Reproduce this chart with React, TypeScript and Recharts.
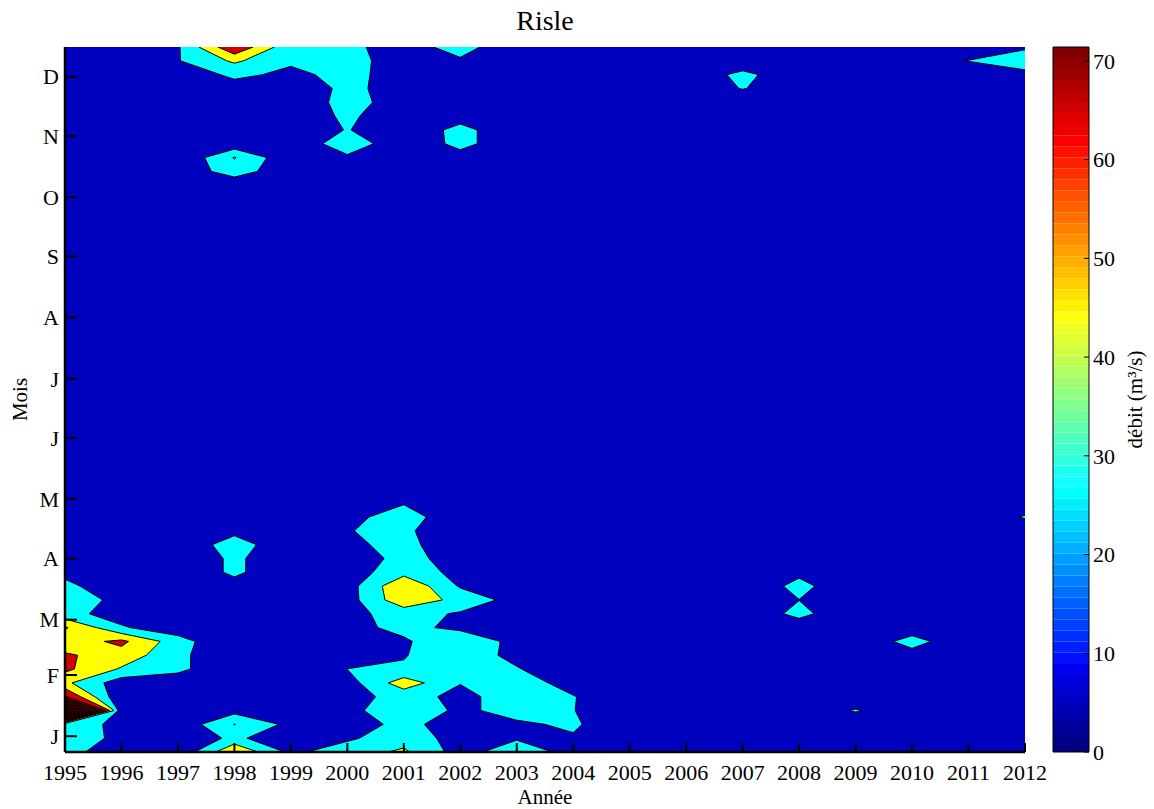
import { ScatterChart, Scatter, XAxis, YAxis, Label, ComposedChart, ReferenceArea } from "recharts";

const FONT = "'Liberation Serif', 'Times New Roman', serif";

// grid: one column per year, one row per week (day of year of the weekly value)
const YEARS = [1995, 1996, 1997, 1998, 1999, 2000, 2001, 2002, 2003, 2004, 2005, 2006, 2007, 2008, 2009, 2010, 2011, 2012];
const WEEK_DAYS = [
  7, 14, 21, 28, 35, 42, 49, 56, 63, 70, 77, 84, 91, 98, 105, 112, 119, 126, 133, 140, 147, 154, 161, 168, 175, 182,
  189, 196, 203, 210, 217, 224, 231, 238, 245, 252, 259, 266, 273, 280, 287, 294, 301, 308, 315, 322, 329, 336, 343, 350, 357, 364,
];
const MONTH_DAYS = [15, 46, 74, 105, 135, 166, 196, 227, 258, 288, 319, 349];
const MONTH_LETTERS = ["J", "F", "M", "A", "M", "J", "J", "A", "S", "O", "N", "D"];

// weekly discharge (m3/s), week 1 -> week 52
const q1995 = [30, 33, 30, 260, 82, 48, 66, 64, 53, 64, 32, 34, 30, 22, 17, 15, 14, 13, 12, 12, 11, 11, 10, 10, 9, 9, 9, 8, 8, 8, 7, 8, 7, 7, 8, 8, 8, 8, 9, 9, 10, 10, 11, 11, 12, 12, 13, 13, 13, 14, 14, 15];
const q1996 = [19, 23, 24, 11, 10, 16, 42, 55, 66, 28, 18, 22, 15, 12, 12, 11, 11, 12, 11, 10, 10, 10, 9, 9, 9, 9, 8, 8, 9, 8, 8, 7, 7, 8, 8, 8, 7, 8, 8, 9, 9, 10, 10, 11, 11, 12, 12, 12, 12, 13, 13, 14];
const q1997 = [12, 5, 13, 12, 12, 16, 30, 30, 34, 15, 12, 12, 12, 12, 12, 12, 11, 11, 11, 10, 10, 10, 9, 9, 9, 9, 8, 8, 8, 8, 7, 7, 8, 8, 8, 8, 8, 8, 9, 9, 9, 10, 10, 9, 11, 11, 12, 12, 12, 17, 25, 24];
const q1998 = [60, 32, 44.5, 20, 12, 12, 12, 12, 8, 12, 12, 12, 19, 29.5, 29.5, 35, 21, 12, 11, 11, 10, 10, 10, 9, 9, 9, 8, 9, 8, 8, 8, 7, 8, 8, 8, 8, 9, 8, 9, 9, 9, 10, 37, 45, 14, 12, 12, 12, 20, 29, 47, 78];
const q1999 = [22, 5, 21, 12, 12, 13, 12, 13, 12, 13, 13, 12, 12, 12, 12, 12, 11, 11, 10, 10, 10, 9, 9, 9, 9, 8, 8, 8, 8, 7, 7, 7, 7, 7, 8, 8, 8, 8, 8, 9, 9, 10, 10, 12, 8, 12, 12, 10, 15, 23, 28, 30];
const q2000 = [36, 23, 12, 20, 20, 18, 26.2, 15, 14, 19, 21, 18, 18, 16, 11, 22, 25.5, 21, 12, 11, 10, 10, 9, 9, 9, 8, 8, 8, 8, 8, 7, 7, 7, 8, 8, 8, 8, 9, 9, 10, 10, 11, 11, 22, 40, 27, 30, 34, 30, 30, 32, 31];
const q2001 = [47, 37, 34, 40, 32, 54, 28, 25, 23, 32, 33, 57, 60, 38, 34, 32, 29.5, 34, 25, 12, 11, 10, 10, 10, 9, 9, 9, 8, 8, 8, 8, 7, 7, 8, 8, 8, 8, 8, 9, 9, 10, 10, 11, 11, 10, 12, 12, 16, 19, 20, 18, 16];
const q2002 = [18, 18, 12, 22, 22, 26.5, 33, 38, 43, 21, 24, 38, 24, 20, 16, 12, 12, 14, 11, 11, 10, 10, 10, 9, 9, 9, 9, 8, 8, 8, 8, 7, 8, 8, 7, 8, 8, 8, 8, 9, 9, 10, 10, 18, 32, 32, 18, 12, 12, 12, 23, 35];
const q2003 = [38, 24, 23, 33, 33, 36, 27.5, 20, 19, 14, 15, 19, 12, 12, 12, 12, 11, 11, 10, 10, 10, 9, 9, 9, 9, 8, 8, 8, 8, 7, 7, 7, 7, 7, 8, 8, 8, 8, 8, 9, 9, 10, 10, 11, 12, 12, 12, 12, 13, 13, 12, 9];
const q2004 = [19, 24, 29, 26.5, 27, 18, 10, 12, 12, 12, 13, 12, 12, 12, 11, 11, 11, 10, 10, 10, 9, 9, 9, 9, 8, 8, 8, 8, 7, 7, 7, 7, 7, 7, 7, 8, 8, 8, 8, 9, 9, 10, 10, 11, 11, 12, 12, 12, 13, 13, 13, 14];
const q2005 = [12, 11, 10, 12, 10, 12, 12, 13, 12, 13, 12, 12, 12, 11, 11, 11, 10, 10, 10, 9, 9, 9, 9, 8, 8, 8, 8, 7, 7, 7, 7, 7, 7, 7, 7, 7, 8, 8, 8, 9, 9, 9, 10, 10, 11, 11, 12, 12, 12, 13, 13, 13];
const q2006 = [13, 14, 13, 13, 14, 14, 13, 14, 13, 13, 13, 12, 12, 12, 11, 11, 11, 10, 10, 10, 9, 9, 9, 9, 8, 8, 8, 8, 8, 7, 7, 7, 7, 7, 7, 8, 8, 8, 8, 9, 9, 10, 10, 11, 11, 11, 12, 12, 12, 13, 13, 14];
const q2007 = [14, 14, 15, 14, 13, 14, 14, 13, 13, 13, 13, 12, 12, 12, 12, 11, 11, 11, 10, 10, 10, 9, 9, 9, 9, 8, 8, 8, 8, 8, 7, 7, 7, 7, 8, 8, 8, 8, 8, 9, 9, 10, 10, 11, 11, 11, 12, 10, 27, 31, 13, 14];
const q2008 = [14, 15, 14, 14, 13, 14, 13, 13, 14, 16, 31, 25.8, 31.4, 22, 13, 12, 12, 11, 11, 10, 10, 10, 9, 9, 9, 9, 8, 8, 8, 8, 8, 7, 7, 7, 8, 8, 8, 8, 8, 9, 9, 10, 10, 11, 11, 12, 12, 12, 13, 13, 13, 14];
const q2009 = [13, 14, 14, 27.5, 13, 14, 13, 13, 12, 13, 12, 12, 12, 12, 11, 11, 11, 10, 10, 10, 9, 9, 9, 9, 8, 8, 8, 8, 7, 7, 7, 7, 7, 7, 7, 8, 8, 8, 8, 9, 9, 9, 10, 10, 11, 11, 12, 12, 12, 13, 13, 13];
const q2010 = [14, 14, 13, 13, 14, 13, 13, 19, 33, 16, 13, 12, 12, 12, 12, 11, 11, 10, 10, 10, 9, 9, 9, 9, 8, 8, 8, 8, 8, 7, 7, 7, 7, 7, 8, 8, 8, 8, 8, 9, 9, 10, 10, 10, 11, 11, 12, 12, 12, 13, 21, 13];
const q2011 = [14, 15, 14, 13, 13, 14, 13, 13, 12, 13, 13, 12, 12, 12, 12, 11, 11, 10, 10, 10, 9, 9, 9, 9, 8, 8, 8, 8, 8, 8, 7, 7, 7, 7, 7, 8, 8, 8, 8, 9, 9, 10, 10, 11, 11, 11, 12, 12, 12, 15, 26.5, 15];
const q2012 = [27, 15, 14, 14, 13, 14, 13, 13, 12, 12, 12, 12, 11, 11, 11, 11, 11, 28, 11, 10, 10, 9, 9, 9, 9, 8, 8, 8, 8, 8, 7, 7, 7, 7, 8, 8, 8, 8, 8, 9, 9, 10, 10, 11, 11, 11, 12, 12, 12, 18.5, 40, 22.5];

const FLOWS = [q1995, q1996, q1997, q1998, q1999, q2000, q2001, q2002, q2003, q2004, q2005, q2006, q2007, q2008, q2009, q2010, q2011, q2012];

// contour levels and the colour filled above each one
const LEVELS = [26, 44, 62, 80, 98, 116, 134, 152, 170, 188, 206, 224, 242];
const BG_COLOR = "#0000BF";
const LEVEL_COLORS = ["#00FFFF", "#FFFF00", "#CF0000", "#800000", "#800000", "#800000", "#800000", "#800000", "#800000", "#800000", "#800000", "#800000", "#800000"];

const CB_MAX = 71.4;
const CB_TICKS = [0, 10, 20, 30, 40, 50, 60, 70];
const CB_STEPS = 64;

type Pt = { x: number; y: number };

function cellCorners(i: number, j: number) {
  const xs = [YEARS[i], YEARS[i + 1], YEARS[i + 1], YEARS[i]];
  const ys = [WEEK_DAYS[j], WEEK_DAYS[j], WEEK_DAYS[j + 1], WEEK_DAYS[j + 1]];
  const vs = [FLOWS[i][j], FLOWS[i + 1][j], FLOWS[i + 1][j + 1], FLOWS[i][j + 1]];
  return { xs, ys, vs };
}

function crossing(xs: number[], ys: number[], vs: number[], a: number, b: number, level: number): Pt {
  const t = (level - vs[a]) / (vs[b] - vs[a]);
  return { x: xs[a] + t * (xs[b] - xs[a]), y: ys[a] + t * (ys[b] - ys[a]) };
}

// part of one grid cell lying at or above the level (marching squares)
function cellRegion(i: number, j: number, level: number): Pt[][] {
  const { xs, ys, vs } = cellCorners(i, j);
  const inside = vs.map((v) => v >= level);
  const count = inside.filter(Boolean).length;
  if (count === 0) return [];
  const centre = (vs[0] + vs[1] + vs[2] + vs[3]) / 4;
  if (count === 2 && inside[0] === inside[2] && centre < level) {
    return [0, 1, 2, 3]
      .filter((k) => inside[k])
      .map((k) => [
        crossing(xs, ys, vs, (k + 3) % 4, k, level),
        { x: xs[k], y: ys[k] },
        crossing(xs, ys, vs, k, (k + 1) % 4, level),
      ]);
  }
  const ring: Pt[] = [];
  for (let k = 0; k < 4; k++) {
    const n = (k + 1) % 4;
    if (inside[k]) ring.push({ x: xs[k], y: ys[k] });
    if (inside[k] !== inside[n]) ring.push(crossing(xs, ys, vs, k, n, level));
  }
  return [ring];
}

// isoline pieces crossing one grid cell
function cellIsolines(i: number, j: number, level: number): Pt[][] {
  const { xs, ys, vs } = cellCorners(i, j);
  const inside = vs.map((v) => v >= level);
  const hits: Pt[] = [];
  for (let k = 0; k < 4; k++) {
    const n = (k + 1) % 4;
    if (inside[k] !== inside[n]) hits[k] = crossing(xs, ys, vs, k, n, level);
  }
  const found = hits.filter(Boolean);
  if (found.length === 2) return [found];
  if (found.length === 4) {
    const centre = (vs[0] + vs[1] + vs[2] + vs[3]) / 4;
    return [0, 1, 2, 3]
      .filter((m) => (centre >= level ? !inside[m] : inside[m]))
      .map((m) => [hits[(m + 3) % 4], hits[m]]);
  }
  return [];
}

function collect(fn: (i: number, j: number, level: number) => Pt[][], level: number) {
  const rings: Pt[][] = [];
  for (let i = 0; i < YEARS.length - 1; i++) {
    for (let j = 0; j < WEEK_DAYS.length - 1; j++) rings.push(...fn(i, j, level));
  }
  return rings;
}

const BG_RING: Pt[] = [
  { x: YEARS[0], y: WEEK_DAYS[0] },
  { x: YEARS[YEARS.length - 1], y: WEEK_DAYS[0] },
  { x: YEARS[YEARS.length - 1], y: WEEK_DAYS[WEEK_DAYS.length - 1] },
  { x: YEARS[0], y: WEEK_DAYS[WEEK_DAYS.length - 1] },
];

const FILLS = [
  { key: "bg", color: BG_COLOR, rings: [BG_RING] },
  ...LEVELS.map((level, li) => ({ key: `l${level}`, color: LEVEL_COLORS[li], rings: collect(cellRegion, level) })),
].map((f) => ({ ...f, points: f.rings.flat(), sizes: f.rings.map((r) => r.length) }));

const ISO_RINGS = LEVELS.flatMap((level) => collect(cellIsolines, level));
const ISO = { points: ISO_RINGS.flat(), sizes: ISO_RINGS.map((r) => r.length) };

function ringsPath(points: { x: number | null; y: number | null }[], sizes: number[], close: boolean) {
  let d = "";
  let at = 0;
  for (const n of sizes) {
    for (let k = 0; k < n; k++) {
      const p = points[at + k];
      if (!p || p.x == null || p.y == null) continue;
      d += (k === 0 ? "M" : "L") + p.x.toFixed(2) + "," + p.y.toFixed(2);
    }
    if (close) d += "Z";
    at += n;
  }
  return d;
}

// MATLAB jet, row 1..64
function jet(row: number) {
  const c = (v: number) => Math.round(255 * Math.max(0, Math.min(1, v)));
  const r = c(Math.min((row - 24) / 16, (72 - row) / 16));
  const g = c(Math.min((row - 8) / 16, (56 - row) / 16));
  const b = c(Math.min((row + 7) / 16, (41 - row) / 16));
  return `rgb(${r},${g},${b})`;
}

const blank = () => <g />;
const tickText = { fill: "#000", fontSize: 22, fontFamily: FONT };
const frame = { stroke: "#000", strokeWidth: 2.5 };
const tickStroke = { stroke: "#000", strokeWidth: 2 };

const titleStyle = { fontFamily: FONT, fontSize: 21, fill: "#000" };

function RotatedTitle({ x, y, children }: { x: number; y: number; children: any }) {
  return (
    <text x={x} y={y} transform={`rotate(-90 ${x} ${y})`} textAnchor="middle" dominantBaseline="central" style={titleStyle}>
      {children}
    </text>
  );
}

export default function App() {
  return (
    <div style={{ position: "absolute", left: 0, top: 0, width: 1154, height: 809, background: "#fff" }}>
      <div
        style={{
          position: "absolute",
          left: 0,
          top: 7,
          width: 1090,
          textAlign: "center",
          fontFamily: FONT,
          fontSize: 28,
          lineHeight: "28px",
          color: "#000",
        }}
      >
        Risle
      </div>

      <div style={{ position: "absolute", left: 0, top: 0 }}>
        <ScatterChart width={1154} height={809} margin={{ top: 47, right: 129, bottom: 0, left: 0 }}>
          {FILLS.map((f) => (
            <Scatter
              key={f.key}
              xAxisId="year"
              yAxisId="day"
              data={f.points}
              shape={blank}
              legendType="none"
              isAnimationActive={false}
              zIndex={100}
              line={(p: any) => <path d={ringsPath(p.points, f.sizes, true)} fill={f.color} stroke="none" />}
            />
          ))}
          <Scatter
            xAxisId="year"
            yAxisId="day"
            data={ISO.points}
            shape={blank}
            legendType="none"
            isAnimationActive={false}
            zIndex={100}
            line={(p: any) => <path d={ringsPath(p.points, ISO.sizes, false)} fill="none" stroke="#000" strokeWidth={1} />}
          />
          <Scatter
            xAxisId="yearTop"
            yAxisId="dayRight"
            data={BG_RING}
            shape={blank}
            legendType="none"
            isAnimationActive={false}
          />

          <XAxis
            xAxisId="year"
            type="number"
            dataKey="x"
            domain={[YEARS[0], YEARS[YEARS.length - 1]]}
            allowDataOverflow
            ticks={YEARS}
            interval={0}
            height={57}
            tickSize={-9}
            tickMargin={21}
            axisLine={frame}
            tickLine={tickStroke}
            tick={tickText}
          >
            <Label
              content={(p: any) => (
                <text
                  x={p.viewBox.x + p.viewBox.width / 2}
                  y={p.viewBox.y + 45}
                  textAnchor="middle"
                  dominantBaseline="central"
                  style={titleStyle}
                >
                  Année
                </text>
              )}
            />
          </XAxis>
          <XAxis
            xAxisId="yearTop"
            orientation="top"
            type="number"
            dataKey="x"
            domain={[YEARS[0], YEARS[YEARS.length - 1]]}
            allowDataOverflow
            ticks={YEARS}
            interval={0}
            height={0}
            tickSize={-9}
            tick={false}
            axisLine={frame}
            tickLine={tickStroke}
          />
          <YAxis
            yAxisId="day"
            type="number"
            dataKey="y"
            domain={[WEEK_DAYS[0], WEEK_DAYS[WEEK_DAYS.length - 1]]}
            allowDataOverflow
            ticks={MONTH_DAYS}
            interval={0}
            tickFormatter={(d: number) => MONTH_LETTERS[MONTH_DAYS.indexOf(d)]}
            width={65}
            tickSize={-12}
            tickMargin={18}
            axisLine={frame}
            tickLine={tickStroke}
            tick={tickText}
          >
            <Label
              content={(p: any) => (
                <RotatedTitle x={p.viewBox.x + 20} y={p.viewBox.y + p.viewBox.height / 2}>
                  Mois
                </RotatedTitle>
              )}
            />
          </YAxis>
          <YAxis
            yAxisId="dayRight"
            orientation="right"
            type="number"
            dataKey="y"
            domain={[WEEK_DAYS[0], WEEK_DAYS[WEEK_DAYS.length - 1]]}
            allowDataOverflow
            ticks={MONTH_DAYS}
            interval={0}
            width={0}
            tickSize={-12}
            tick={false}
            axisLine={frame}
            tickLine={tickStroke}
          />
        </ScatterChart>
      </div>

      {/* colour bar */}
      <div style={{ position: "absolute", left: 1013, top: 0 }}>
        <ComposedChart width={141} height={809} margin={{ top: 47, right: 0, bottom: 57, left: 40 }}>
          <XAxis xAxisId="cb" type="number" dataKey="x" domain={[0, 1]} allowDataOverflow hide />
          {Array.from({ length: CB_STEPS }, (_, k) => (
            <ReferenceArea
              key={k}
              xAxisId="cb"
              yAxisId="cbRight"
              x1={0}
              x2={1}
              y1={(k * CB_MAX) / CB_STEPS}
              y2={((k + 1) * CB_MAX) / CB_STEPS}
              fill={jet(k + 1)}
              fillOpacity={1}
              stroke="none"
              ifOverflow="visible"
            />
          ))}
          <ReferenceArea
            xAxisId="cb"
            yAxisId="cbRight"
            x1={0}
            x2={1}
            y1={0}
            y2={CB_MAX}
            fill="none"
            stroke="#000"
            strokeWidth={1}
            ifOverflow="visible"
          />
          <Scatter xAxisId="cb" yAxisId="cbRight" data={[{ x: 0, y: 0 }, { x: 1, y: CB_MAX }]} shape={blank} isAnimationActive={false} legendType="none" />
          <Scatter xAxisId="cb" yAxisId="cbLeft" data={[{ x: 0, y: 0 }, { x: 1, y: CB_MAX }]} shape={blank} isAnimationActive={false} legendType="none" />
          <YAxis
            yAxisId="cbLeft"
            type="number"
            dataKey="y"
            domain={[0, CB_MAX]}
            allowDataOverflow
            ticks={CB_TICKS}
            interval={0}
            width={0}
            tickSize={-5}
            tick={false}
            axisLine={false}
            tickLine={{ stroke: "#000", strokeWidth: 1 }}
          />
          <YAxis
            yAxisId="cbRight"
            orientation="right"
            type="number"
            dataKey="y"
            domain={[0, CB_MAX]}
            allowDataOverflow
            ticks={CB_TICKS}
            interval={0}
            width={65}
            tickSize={-5}
            tickMargin={9}
            axisLine={false}
            tickLine={{ stroke: "#000", strokeWidth: 1 }}
            tick={tickText}
          >
            <Label
              content={(p: any) => (
                <RotatedTitle x={p.viewBox.x + 46} y={p.viewBox.y + p.viewBox.height / 2}>
                  débit (m³/s)
                </RotatedTitle>
              )}
            />
          </YAxis>
        </ComposedChart>
      </div>
    </div>
  );
}
